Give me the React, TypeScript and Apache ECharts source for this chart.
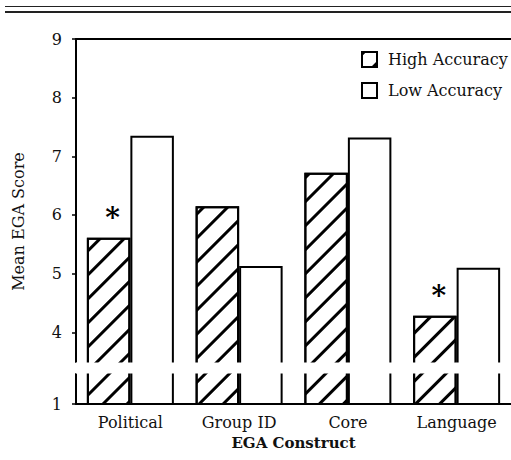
import React, { useEffect, useRef } from "react";
import * as echarts from "echarts";

const categories = ["Political", "Group ID", "Core", "Language"];
const highAccuracy = [5.61, 6.15, 6.72, 4.28];
const lowAccuracy = [7.35, 5.13, 7.32, 5.1];
const significant = [true, false, false, true];
const yTicks = [1, 4, 5, 6, 7, 8, 9];

const FONT = "DejaVu Serif";

export default function App() {
  const ref = useRef<HTMLDivElement>(null);
  useEffect(() => {
    if (!ref.current) return;
    const chart = echarts.init(ref.current, null, { renderer: "svg" });
    const border = { borderColor: "#000", borderWidth: 2 };
    chart.setOption({
      animation: false,
      backgroundColor: "#fff",
      textStyle: { fontFamily: FONT, color: "#111" },
      graphic: [
        { type: "line", shape: { x1: 5, y1: 6.5, x2: 511, y2: 6.5 }, style: { stroke: "#222", lineWidth: 1 } },
        { type: "line", shape: { x1: 5, y1: 12, x2: 511, y2: 12 }, style: { stroke: "#222", lineWidth: 2 } },
      ],
      grid: { left: 76, right: 0, top: 39, bottom: 56, containLabel: false },
      legend: {
        left: 361,
        top: 51,
        padding: 0,
        orient: "vertical",
        itemWidth: 15,
        itemHeight: 15,
        itemGap: 14,
        icon: "rect",
        textStyle: { fontFamily: FONT, fontSize: 16, color: "#111", padding: [0, 0, 0, 6] },
        data: ["High Accuracy", "Low Accuracy"],
      },
      xAxis: [
        {
          type: "category",
          data: categories,
          axisLine: { lineStyle: { color: "#000", width: 2 } },
          axisTick: { show: false },
          axisLabel: { fontFamily: FONT, fontSize: 16, color: "#111", margin: 10 },
          name: "EGA Construct",
          nameLocation: "middle",
          nameGap: 31,
          nameTextStyle: { fontFamily: FONT, fontSize: 15, fontWeight: "bold", color: "#111" },
        },
        {
          type: "category",
          position: "top",
          data: categories,
          axisLine: { lineStyle: { color: "#000", width: 2 } },
          axisTick: { show: false },
          axisLabel: { show: false },
        },
      ],
      yAxis: {
        type: "value",
        min: 1,
        max: 9,
        interval: 1,
        breaks: [{ start: 1.52, end: 3.49, gap: "3.1%" }],
        breakArea: {
          show: true,
          itemStyle: { color: "#fff", borderColor: "#fff", borderWidth: 0, opacity: 1 },
          zigzagAmplitude: 0,
          zigzagZ: 100,
          expandOnClick: false,
        },
        axisLine: { show: true, lineStyle: { color: "#000", width: 2 } },
        axisTick: { show: true, length: 4, customValues: yTicks, lineStyle: { color: "#000", width: 1.5 } },
        splitLine: { show: false },
        axisLabel: {
          fontFamily: FONT,
          fontSize: 16,
          color: "#111",
          margin: 14,
          customValues: yTicks,
          hideOverlap: false,
          showMinLabel: true,
          showMaxLabel: true,
        },
        name: "Mean EGA Score",
        nameLocation: "middle",
        nameGap: 50,
        nameTextStyle: { fontFamily: FONT, fontSize: 16, color: "#111" },
      },
      series: [
        {
          name: "High Accuracy",
          type: "bar",
          data: highAccuracy,
          barGap: "0%",
          barCategoryGap: "20%",
          itemStyle: {
            color: "#fff",
            ...border,
            decal: {
              symbol: "rect",
              symbolSize: 1,
              color: "#000",
              dashArrayX: [1, 0],
              dashArrayY: [2.2, 13.5],
              rotation: -Math.PI / 4,
            },
          },
          label: {
            show: true,
            position: "top",
            distance: 6,
            offset: [4, 0],
            fontFamily: FONT,
            fontSize: 28,
            fontWeight: "bold",
            color: "#000",
            formatter: (p: any) => (significant[p.dataIndex] ? "*" : ""),
          },
        },
        {
          name: "Low Accuracy",
          type: "bar",
          data: lowAccuracy,
          barGap: "0%",
          barCategoryGap: "20%",
          itemStyle: { color: "#fff", ...border },
        },
      ],
    });
    return () => chart.dispose();
  }, []);
  return <div ref={ref} style={{ width: 511, height: 460, position: "absolute", left: 0, top: 0 }} />;
}
